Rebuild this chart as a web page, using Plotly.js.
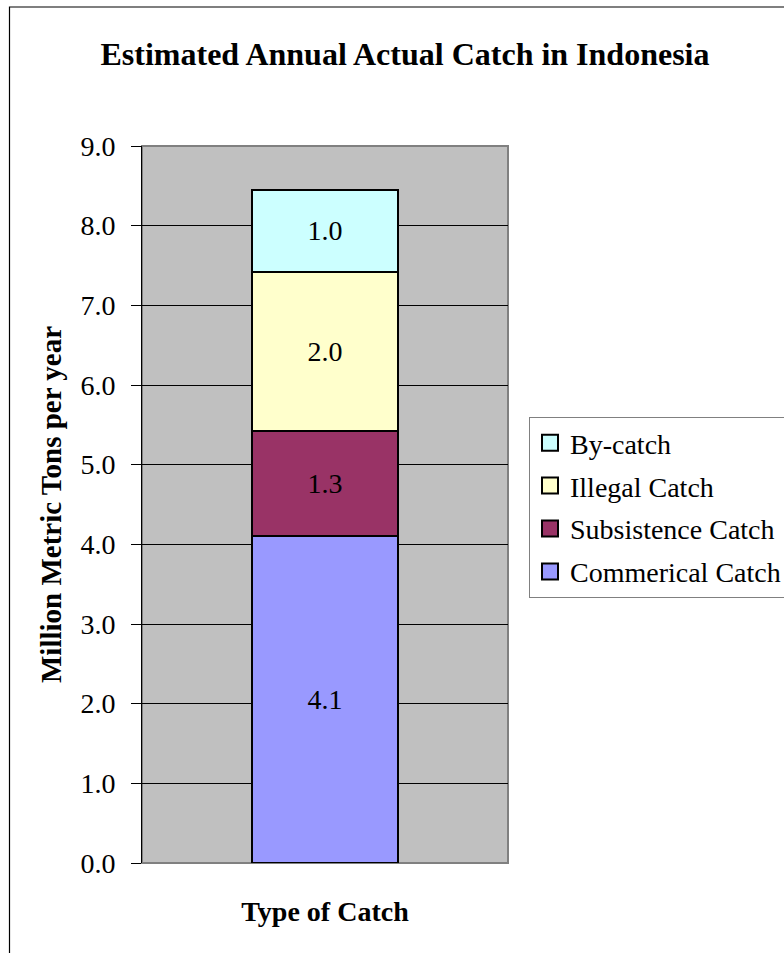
<!DOCTYPE html>
<html>
<head>
<meta charset="utf-8">
<script src="https://cdn.plot.ly/plotly-3.0.1.min.js"></script>
<style>
html,body{margin:0;padding:0;background:#fff;overflow:hidden;width:784px;height:953px;}
#chart{width:830px;height:953px;}
</style>
</head>
<body>
<div id="chart"></div>
<script>
// Data
var categories = ['Type of Catch'];
var seriesNames = ['Commerical Catch', 'Subsistence Catch', 'Illegal Catch', 'By-catch'];
var commercialCatch = [4.1];
var subsistenceCatch = [1.32];
var illegalCatch = [2.0];
var byCatch = [1.03];
var seriesColors = ['#9999FF', '#993366', '#FFFFCC', '#CCFFFF'];
var yTickVals = [0, 1, 2, 3, 4, 5, 6, 7, 8, 9];
var yTickText = ['0.0', '1.0', '2.0', '3.0', '4.0', '5.0', '6.0', '7.0', '8.0', '9.0'];

var seriesValues = [commercialCatch, subsistenceCatch, illegalCatch, byCatch];
var FONT = 'Liberation Serif, Times New Roman, serif';

var W = 830;
var plotL = 142, plotR = 508, plotT = 146, plotB = 863;
var plotW = plotR - plotL, plotH = plotB - plotT;

var traces = seriesNames.map(function (name, i) {
  return {
    type: 'bar',
    name: name,
    x: categories,
    y: seriesValues[i],
    showlegend: false,
    marker: {color: seriesColors[i], line: {color: '#000', width: 2}},
    text: seriesValues[i].map(function (v) { return v.toFixed(1); }),
    texttemplate: '%{text}',
    textposition: 'inside',
    insidetextanchor: 'middle',
    textangle: 0,
    textfont: {family: FONT, size: 28, color: '#000'},
    hoverinfo: 'none'
  };
});

// legend entries (larger square swatches like the reference), top series first
var legendTraces = [];
for (var i = seriesNames.length - 1; i >= 0; i--) {
  legendTraces.push({
    type: 'scatter',
    mode: 'markers',
    name: seriesNames[i],
    x: [null],
    y: [null],
    legendgroup: 'g' + (seriesNames.length - 1 - i),
    marker: {symbol: 'square', size: 16, color: seriesColors[i], line: {color: '#000', width: 2}},
    hoverinfo: 'none'
  });
}

var layout = {
  width: W,
  height: 953,
  margin: {l: plotL, r: W - plotR, t: plotT, b: 953 - plotB},
  paper_bgcolor: '#fff',
  plot_bgcolor: '#C0C0C0',
  barmode: 'stack',
  bargap: 0.6,
  showlegend: true,
  font: {family: FONT, size: 28, color: '#000'},
  title: {
    text: '<b>Estimated Annual Actual Catch in Indonesia</b>',
    font: {family: FONT, size: 32, color: '#000'},
    x: 405 / W, xanchor: 'center', xref: 'container',
    y: 1 - 54 / 953, yanchor: 'middle', yref: 'container'
  },
  xaxis: {
    type: 'category',
    showticklabels: false,
    ticks: '',
    showgrid: false,
    zeroline: false,
    showline: false,
    title: {text: '<b>Type of Catch</b>', font: {family: FONT, size: 28, color: '#000'}, standoff: 38}
  },
  yaxis: {
    range: [0, 9],
    tickvals: yTickVals,
    ticktext: yTickText,
    ticks: 'outside',
    ticklen: 10,
    tickwidth: 1,
    tickcolor: '#000',
    ticklabelstandoff: 10,
    tickfont: {family: FONT, size: 28, color: '#000'},
    showgrid: true,
    gridcolor: '#000',
    gridwidth: 1,
    zeroline: false,
    showline: true,
    linecolor: '#000',
    linewidth: 1,
    title: {text: '<b>Million Metric Tons per year</b>', font: {family: FONT, size: 29, color: '#000'}, standoff: 10}
  },
  legend: {
    x: (529 - plotL) / plotW, xanchor: 'left', xref: 'paper',
    y: (plotB - 417) / plotH, yanchor: 'top', yref: 'paper',
    bgcolor: '#fff',
    bordercolor: '#808080',
    borderwidth: 1,
    traceorder: 'grouped',
    tracegroupgap: 3.5,
    font: {family: FONT, size: 28, color: '#000'},
    itemwidth: 30
  },
  shapes: [
    {type: 'rect', xref: 'paper', yref: 'paper', x0: 0, x1: 1, y0: 0, y1: 1,
     line: {color: '#808080', width: 2}, fillcolor: 'rgba(0,0,0,0)', layer: 'below'},
    {type: 'rect', xref: 'paper', yref: 'paper',
     x0: (9.5 - plotL) / plotW, x1: 3, y0: -3, y1: (plotB - 7) / plotH,
     line: {color: '#000', width: 1.2}, fillcolor: 'rgba(0,0,0,0)', layer: 'below'}
  ]
};

Plotly.newPlot('chart', traces.concat(legendTraces), layout, {displayModeBar: false, staticPlot: true});
</script>
</body>
</html>
